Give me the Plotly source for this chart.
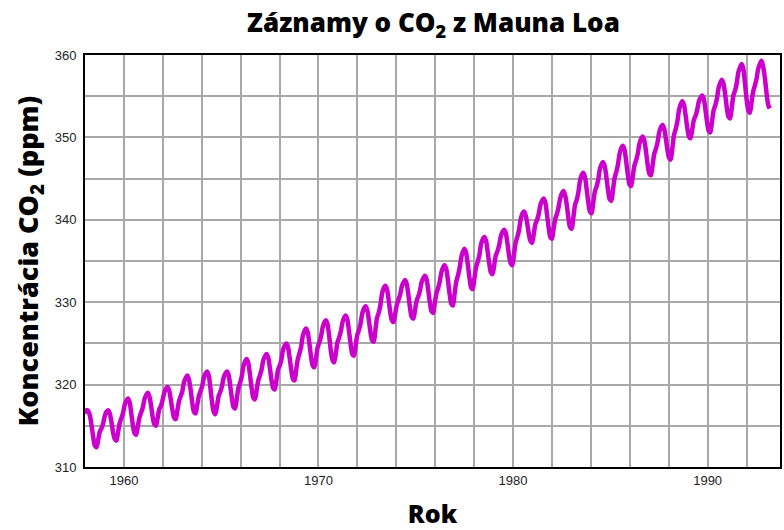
import plotly.graph_objects as go

# Monthly CO2 (ppm), Mauna Loa, starting March 1958
co2_1958 = [316.5, 316.9, 316.8, 316.2, 315.0, 313.6, 312.6, 312.4, 313.3, 314.3]
co2_1959 = [314.7, 315.3, 316.2, 316.7, 316.9, 316.5, 315.5, 314.2, 313.4, 313.2, 314.2, 315.3]
co2_1960 = [315.9, 316.5, 317.5, 318.0, 318.3, 317.9, 316.6, 315.1, 314.1, 313.9, 314.9, 316.0]
co2_1961 = [316.6, 317.2, 318.2, 318.7, 319.0, 318.6, 317.5, 316.1, 315.2, 315.0, 315.9, 317.0]
co2_1962 = [317.4, 318.1, 319.0, 319.5, 319.7, 319.3, 318.2, 316.9, 316.0, 315.8, 316.9, 318.0]
co2_1963 = [318.6, 319.2, 320.3, 320.8, 321.1, 320.6, 319.4, 317.8, 316.7, 316.5, 317.5, 318.6]
co2_1964 = [319.2, 319.8, 320.8, 321.3, 321.6, 321.1, 319.6, 317.9, 316.7, 316.4, 317.4, 318.6]
co2_1965 = [319.1, 319.8, 320.8, 321.3, 321.6, 321.2, 319.9, 318.4, 317.3, 317.1, 318.3, 319.6]
co2_1966 = [320.2, 321.0, 322.2, 322.8, 323.1, 322.6, 321.2, 319.6, 318.4, 318.2, 319.3, 320.5]
co2_1967 = [321.1, 321.8, 322.9, 323.4, 323.7, 323.3, 322.1, 320.6, 319.6, 319.4, 320.5, 321.8]
co2_1968 = [322.3, 323.0, 324.2, 324.7, 325.0, 324.6, 323.3, 321.8, 320.7, 320.5, 321.8, 323.1]
co2_1969 = [323.8, 324.6, 325.9, 326.5, 326.8, 326.3, 325.0, 323.4, 322.3, 322.1, 323.2, 324.5]
co2_1970 = [325.1, 325.8, 326.9, 327.5, 327.8, 327.3, 325.9, 324.1, 323.0, 322.7, 323.8, 325.1]
co2_1971 = [325.7, 326.4, 327.5, 328.1, 328.4, 327.9, 326.5, 324.9, 323.7, 323.5, 324.7, 326.0]
co2_1972 = [326.6, 327.4, 328.6, 329.2, 329.5, 329.1, 327.9, 326.4, 325.4, 325.2, 326.6, 328.1]
co2_1973 = [328.7, 329.6, 331.0, 331.7, 332.0, 331.6, 330.3, 328.8, 327.8, 327.6, 328.6, 329.7]
co2_1974 = [330.3, 330.9, 331.9, 332.4, 332.7, 332.2, 330.9, 329.3, 328.2, 328.0, 329.0, 330.2]
co2_1975 = [330.7, 331.4, 332.4, 332.9, 333.2, 332.8, 331.5, 330.0, 328.9, 328.7, 329.9, 331.1]
co2_1976 = [331.7, 332.5, 333.6, 334.2, 334.5, 334.0, 332.6, 331.0, 329.8, 329.6, 331.0, 332.5]
co2_1977 = [333.2, 334.1, 335.4, 336.1, 336.5, 336.0, 334.6, 333.0, 331.8, 331.6, 332.9, 334.2]
co2_1978 = [334.9, 335.7, 337.0, 337.6, 337.9, 337.5, 336.2, 334.7, 333.6, 333.4, 334.5, 335.7]
co2_1979 = [336.2, 336.9, 338.0, 338.5, 338.8, 338.4, 337.2, 335.7, 334.7, 334.5, 335.8, 337.2]
co2_1980 = [337.9, 338.7, 340.0, 340.7, 341.0, 340.6, 339.6, 338.3, 337.4, 337.2, 338.3, 339.5]
co2_1981 = [340.0, 340.7, 341.8, 342.3, 342.6, 342.1, 340.7, 339.1, 337.9, 337.7, 338.9, 340.1]
co2_1982 = [340.7, 341.5, 342.6, 343.2, 343.5, 343.0, 341.8, 340.2, 339.1, 338.9, 340.3, 341.8]
co2_1983 = [342.4, 343.3, 344.7, 345.4, 345.7, 345.2, 343.8, 342.2, 341.0, 340.8, 342.0, 343.4]
co2_1984 = [344.0, 344.8, 346.1, 346.7, 347.0, 346.5, 345.2, 343.6, 342.5, 342.3, 343.6, 345.1]
co2_1985 = [345.8, 346.7, 348.0, 348.7, 349.0, 348.5, 347.1, 345.5, 344.3, 344.1, 345.3, 346.6]
co2_1986 = [347.2, 348.0, 349.2, 349.8, 350.1, 349.6, 348.3, 346.7, 345.6, 345.4, 346.6, 348.0]
co2_1987 = [348.6, 349.4, 350.6, 351.2, 351.5, 351.1, 349.9, 348.5, 347.5, 347.3, 348.7, 350.3]
co2_1988 = [351.0, 351.9, 353.3, 354.0, 354.4, 354.0, 352.7, 351.2, 350.1, 349.9, 350.9, 352.1]
co2_1989 = [352.6, 353.3, 354.3, 354.8, 355.1, 354.7, 353.4, 351.9, 350.8, 350.6, 351.9, 353.3]
co2_1990 = [353.9, 354.7, 356.0, 356.6, 357.0, 356.5, 355.2, 353.6, 352.5, 352.3, 353.6, 355.1]
co2_1991 = [355.7, 356.6, 357.9, 358.5, 358.9, 358.3, 356.6, 354.6, 353.3, 353.0, 354.3, 355.6]
co2_1992 = [356.3, 357.1, 358.3, 358.9, 359.3, 358.6, 357.3, 355.5, 354.0, 353.5]

yearly = [co2_1958, co2_1959, co2_1960, co2_1961, co2_1962, co2_1963, co2_1964,
          co2_1965, co2_1966, co2_1967, co2_1968, co2_1969, co2_1970, co2_1971,
          co2_1972, co2_1973, co2_1974, co2_1975, co2_1976, co2_1977, co2_1978,
          co2_1979, co2_1980, co2_1981, co2_1982, co2_1983, co2_1984, co2_1985,
          co2_1986, co2_1987, co2_1988, co2_1989, co2_1990, co2_1991, co2_1992]
co2 = [v for yr in yearly for v in yr]

x_tick_vals = [1960, 1970, 1980, 1990]
x_tick_text = ["1960", "1970", "1980", "1990"]
y_tick_vals = [310, 320, 330, 340, 350, 360]

# horizontal position of each monthly sample on the chart's year axis
x_start = 1958.0
x_step = 0.0848
x = [x_start + i * x_step for i in range(len(co2))]

TITLE_FONT = "Open Sans"
GRID = "#a8a8a8"

fig = go.Figure()
fig.add_trace(go.Scatter(
    x=x, y=co2, mode="lines",
    line=dict(color="#CC00CC", width=4.5, shape="spline", smoothing=0.8),
    hoverinfo="skip", showlegend=False,
))

fig.update_layout(
    width=784, height=530,
    margin=dict(l=85, r=2, t=55, b=63),
    paper_bgcolor="white", plot_bgcolor="white",
    title=dict(
        text="Záznamy o CO<sub>2</sub> z Mauna Loa",
        x=(85 + 782) / 2 / 784, xanchor="center",
        y=1 - 23 / 530, yanchor="middle",
        font=dict(family=TITLE_FONT, size=26, color="black", weight=800),
    ),
    font=dict(family="Liberation Sans, Arial", size=13, color="black"),
)

fig.update_xaxes(
    range=[1958, 1993.72],
    tickvals=x_tick_vals, ticktext=x_tick_text,
    showgrid=True, gridcolor=GRID, gridwidth=2,
    minor=dict(tick0=1958, dtick=2, showgrid=True, gridcolor=GRID, gridwidth=2),
    showline=True, linecolor="black", linewidth=2, mirror=True,
    ticks="", zeroline=False,
    tickfont=dict(family="Liberation Sans, Arial", size=13, color="#222"),
    title=dict(text="Rok", standoff=20,
               font=dict(family=TITLE_FONT, size=25, color="black", weight=800)),
)
fig.update_yaxes(
    range=[310, 360],
    tickvals=y_tick_vals,
    showgrid=True, gridcolor=GRID, gridwidth=2,
    minor=dict(tick0=310, dtick=5, showgrid=True, gridcolor=GRID, gridwidth=2),
    showline=True, linecolor="black", linewidth=2, mirror=True,
    ticks="", zeroline=False, ticklabelstandoff=4,
    tickfont=dict(family="Liberation Sans, Arial", size=13, color="#222"),
    title=dict(text="Koncentrácia CO<sub>2</sub> (ppm)", standoff=8,
               font=dict(family=TITLE_FONT, size=27, color="black", weight=800)),
)

fig.write_html("out.html")
